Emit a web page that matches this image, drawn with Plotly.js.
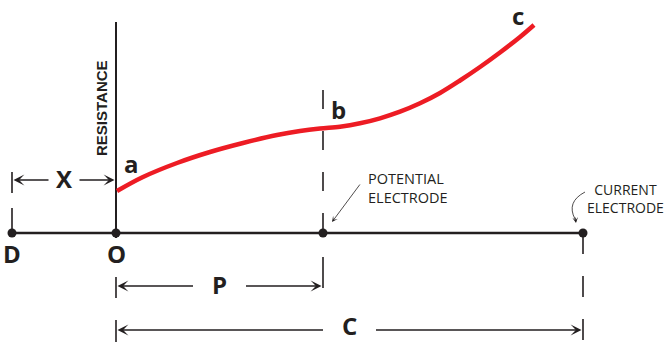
<!DOCTYPE html>
<html>
<head>
<meta charset="utf-8">
<script src="https://cdn.plot.ly/plotly-3.0.1.min.js"></script>
<style>html,body{margin:0;padding:0;background:#fff;}#chart{width:666px;height:342px;}</style>
</head>
<body>
<div id="chart"></div>
<script>
// ---- Data (diagram coordinates, y grows downward) ----
const groundY = 233;
const pointNames = ['D', 'O', 'Potential electrode', 'Current electrode'];
const pointX = [12, 116, 323, 583];
const pointLabels = ['D', 'O'];

const curveX = [117, 143, 177, 210, 243, 277, 300, 320, 340, 360, 380, 400, 420, 440, 460, 480, 500, 520, 534];
const curveY = [191, 177, 163, 152, 143, 135, 131, 128.5, 126.7, 123.3, 118.3, 111.7, 103.3, 93, 80.5, 67, 52.5, 37, 25];

const curveLabels = ['a', 'b', 'c'];
const curveLabelX = [131, 338, 518];
const curveLabelY = [163, 109, 15];

const dimNames = ['X', 'P', 'C'];
const dimStart = [12, 116, 116];
const dimEnd = [116, 323, 583];
const dimY = [180, 286, 330];
const dimLabelY = [178, 284, 325];
const dimGap = [14, 25, 25];

const axisTitle = 'RESISTANCE';
const potentialText = 'POTENTIAL<br>ELECTRODE';
const currentText = 'CURRENT<br>ELECTRODE';

// ---- Styles ----
const ink = '#231f20';
const red = '#ed1c24';
const boldFont = {family: 'Open Sans, sans-serif', size: 24, color: ink, weight: 'bold'};

const traces = [
  {
    x: curveX, y: curveY, type: 'scatter', mode: 'lines',
    line: {color: red, width: 4.5, shape: 'spline', smoothing: 1},
    hoverinfo: 'skip'
  },
  {
    x: pointX, y: pointX.map(() => groundY), type: 'scatter', mode: 'markers',
    marker: {color: ink, size: 9},
    text: pointNames, hoverinfo: 'text'
  }
];

const shapes = [];
const L = (x0, y0, x1, y1, w, dash) => shapes.push({
  type: 'line', xref: 'x', yref: 'y', x0, y0, x1, y1,
  line: {color: ink, width: w, dash: dash || 'solid'}, layer: 'below'
});

// ground line
L(pointX[0], groundY, pointX[3], groundY, 2.5);
// resistance axis
L(pointX[1], 22, pointX[1], groundY + 5, 2);
// D dashed
L(pointX[0], 172, pointX[0], groundY, 1.6, '21px,15px');
// potential electrode dashed
L(pointX[2], 90, pointX[2], groundY, 1.6, '19px,22px');
L(pointX[2], 257, pointX[2], 288, 1.6);
// current electrode dashed
L(pointX[3], groundY, pointX[3], 342, 1.6, '21px,22px');
// O ticks for P and C
L(pointX[1], 277, pointX[1], 298, 1.6);
L(pointX[1], 320, pointX[1], 342, 1.6);

// curved arrow to current electrode
shapes.push({
  type: 'path', xref: 'x', yref: 'y',
  path: 'M 585,192 Q 566,202 575,219',
  line: {color: ink, width: 0.8}
});

const annotations = [];
// dimension arrows + labels
dimNames.forEach((n, i) => {
  const mid = (dimStart[i] + dimEnd[i]) / 2;
  const ann = (x, ax) => annotations.push({
    x: x, y: dimY[i], ax: ax, ay: dimY[i], xref: 'x', yref: 'y', axref: 'x', ayref: 'y',
    text: '', showarrow: true, arrowhead: 3, arrowsize: 1.4, arrowwidth: 1.3, arrowcolor: ink, standoff: 0
  });
  ann(dimStart[i] + 1.5, mid - dimGap[i]);
  ann(dimEnd[i] - 1.5, mid + dimGap[i]);
  annotations.push({x: mid, y: dimLabelY[i], xref: 'x', yref: 'y', text: n, showarrow: false,
    font: boldFont, xanchor: 'center', yanchor: 'middle'});
});
// point labels D, O
pointLabels.forEach((t, i) => annotations.push({
  x: pointX[i], y: 253, xref: 'x', yref: 'y', text: t, showarrow: false,
  font: boldFont, xanchor: 'center', yanchor: 'middle'
}));
// curve labels
curveLabels.forEach((t, i) => annotations.push({
  x: curveLabelX[i], y: curveLabelY[i], xref: 'x', yref: 'y', text: t, showarrow: false,
  font: boldFont, xanchor: 'center', yanchor: 'middle'
}));
// axis title
annotations.push({x: 101, y: 108, xref: 'x', yref: 'y', text: axisTitle, showarrow: false,
  textangle: -90, font: {family: 'Liberation Sans, Arial, sans-serif', size: 15, color: ink, weight: 'bold'},
  xanchor: 'center', yanchor: 'middle'});
// potential electrode note
annotations.push({x: 366, y: 188, xref: 'x', yref: 'y', text: potentialText, showarrow: false,
  font: {family: 'Open Sans, sans-serif', size: 14.5, color: ink}, align: 'left', xanchor: 'left', yanchor: 'middle'});
annotations.push({x: 332, y: 222, ax: 361, ay: 183, xref: 'x', yref: 'y', axref: 'x', ayref: 'y',
  text: '', showarrow: true, arrowhead: 3, arrowsize: 1.2, arrowwidth: 0.8, arrowcolor: ink, standoff: 0});
// current electrode note
annotations.push({x: 625, y: 198, xref: 'x', yref: 'y', text: currentText, showarrow: false,
  font: {family: 'Open Sans, sans-serif', size: 14, color: ink}, align: 'center', xanchor: 'center', yanchor: 'middle'});
annotations.push({x: 576, y: 223, ax: 575, ay: 216, xref: 'x', yref: 'y', axref: 'x', ayref: 'y',
  text: '', showarrow: true, arrowhead: 3, arrowsize: 1.2, arrowwidth: 0.8, arrowcolor: ink, standoff: 0});

const layout = {
  width: 666, height: 342,
  margin: {l: 0, r: 0, t: 0, b: 0, pad: 0},
  paper_bgcolor: '#fff', plot_bgcolor: '#fff',
  showlegend: false,
  xaxis: {range: [0, 666], visible: false, fixedrange: true},
  yaxis: {range: [342, 0], visible: false, fixedrange: true},
  shapes: shapes,
  annotations: annotations
};

Plotly.newPlot('chart', traces, layout, {staticPlot: true, displayModeBar: false});
</script>
</body>
</html>
